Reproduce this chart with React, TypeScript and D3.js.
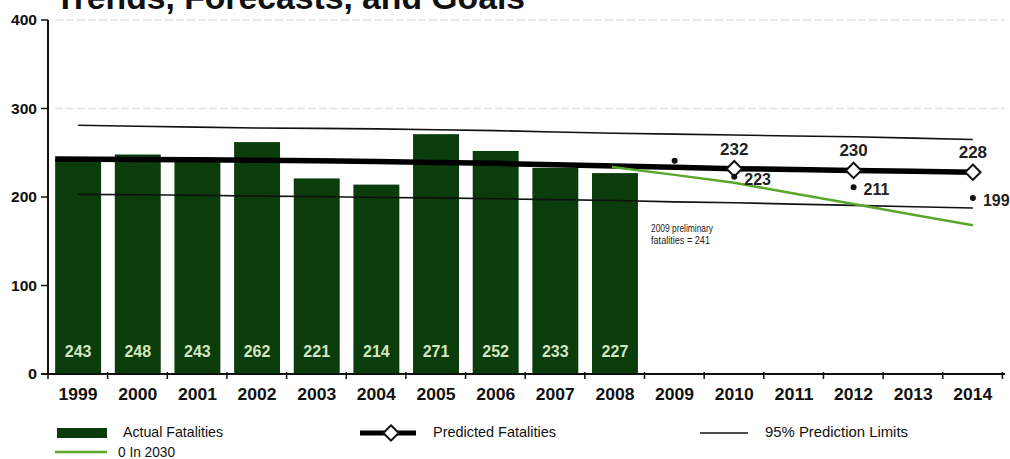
import * as d3 from "d3";

// data
const years = ["1999","2000","2001","2002","2003","2004","2005","2006","2007","2008","2009","2010","2011","2012","2013","2014"];
const actualYears = ["1999","2000","2001","2002","2003","2004","2005","2006","2007","2008"];
const actual = [243, 248, 243, 262, 221, 214, 271, 252, 233, 227];
const predicted = [243, 242.5, 242, 241.5, 241, 240, 239, 238, 236.5, 235, 233.5, 232, 231, 230, 229, 228];
const upperLimit = [281, 280, 279, 278, 277.5, 277, 276, 275, 273.5, 272, 271, 270, 269, 268, 266.5, 265];
const lowerLimit = [203, 202.5, 202, 201, 200.5, 199.5, 199, 198, 197, 196, 194.5, 193.5, 192, 190.5, 189, 187.5];
const goalYears = ["2008","2009","2010","2011","2012","2013","2014"];
const goal = [234, 225, 216, 204, 192, 180, 168];
const markedYears = ["2010","2012","2014"];
const marked = [232, 230, 228];
const dotYears = ["2009","2010","2012","2014"];
const dots = [241, 223, 211, 199];
const yTicks = [0, 100, 200, 300, 400];

const W = 1010, H = 459;
const bold = "Liberation Sans, Arial, sans-serif";

export default function App() {
  const x = d3.scaleBand().domain(years).range([48, 1003]).paddingInner(0.23).paddingOuter(0.12);
  const y = d3.scaleLinear().domain([0, 400]).range([374, 20]);
  const step = x.step();
  const cx = (yr: string) => (x(yr) as number) + x.bandwidth() / 2;

  // thick predicted line starts at the left edge of the first bar
  const predLine = d3.line<number>()
    .x((d, i) => (i === 0 ? (x(years[0]) as number) : cx(years[i])))
    .y(d => y(d));
  const limLine = d3.line<number>().x((d, i) => cx(years[i])).y(d => y(d));
  const goalLine = d3.line<number>().x((d, i) => cx(goalYears[i]) - (i === 0 ? 3 : 0)).y(d => y(d));
  const diamond = d3.symbol().type(d3.symbolDiamond2).size(150)();

  return (
    <svg width={W} height={H} style={{ position: "absolute", left: 0, top: 0, background: "#fff" }}>
      <text x={55} y={9} fontFamily={bold} fontWeight="bold" fontSize={33} fill="#111" textLength={470} lengthAdjust="spacingAndGlyphs">Trends, Forecasts, and Goals</text>

      {/* faint gridlines */}
      {[300, 400].map(v => (
        <line key={v} x1={55} x2={1005} y1={y(v)} y2={y(v)} stroke="#e2e2e2" strokeWidth={1.5} strokeDasharray="8,3" />
      ))}

      {/* bars */}
      {actual.map((v, i) => (
        <rect key={i} x={x(actualYears[i])} y={y(v)} width={x.bandwidth()} height={y(0) - y(v)} fill="#0b3c0c" />
      ))}
      {actual.map((v, i) => (
        <text key={"l" + i} x={cx(actualYears[i])} y={357} textAnchor="middle" fontFamily={bold} fontWeight="bold" fontSize={16} fill="#d2e6bf">{v}</text>
      ))}

      {/* prediction limits */}
      <path d={limLine(upperLimit) as string} fill="none" stroke="#111" strokeWidth={1.6} />
      <path d={limLine(lowerLimit) as string} fill="none" stroke="#111" strokeWidth={1.6} />

      {/* predicted */}
      <path d={predLine(predicted) as string} fill="none" stroke="#000" strokeWidth={5.5} />

      {/* goal line */}
      <path d={goalLine(goal) as string} fill="none" stroke="#5aa62c" strokeWidth={2.5} />

      {/* diamonds + labels */}
      {marked.map((v, i) => (
        <g key={"m" + i}>
          <path d={diamond as string} transform={`translate(${cx(markedYears[i])},${y(v)})`} fill="#fff" stroke="#111" strokeWidth={2} />
          <text x={cx(markedYears[i])} y={y(v) - 14} textAnchor="middle" fontFamily={bold} fontWeight="bold" fontSize={17} fill="#222">{v}</text>
        </g>
      ))}

      {/* preliminary / goal dots */}
      {dots.map((v, i) => (
        <g key={"d" + i}>
          <circle cx={cx(dotYears[i])} cy={y(v)} r={3} fill="#111" />
          {i > 0 && (
            <text x={cx(dotYears[i]) + 10} y={y(v) + 8} fontFamily={bold} fontWeight="bold" fontSize={16} fill="#222">{v}</text>
          )}
        </g>
      ))}
      <text x={651} y={232} fontFamily={bold} fontSize={10} fill="#222" textLength={62} lengthAdjust="spacingAndGlyphs">2009 preliminary</text>
      <text x={651} y={244} fontFamily={bold} fontSize={10} fill="#222" textLength={59} lengthAdjust="spacingAndGlyphs">fatalities = 241</text>

      {/* y axis */}
      <line x1={48} x2={48} y1={y(400)} y2={y(0)} stroke="#111" strokeWidth={2} />
      {yTicks.map(t => (
        <g key={t}>
          <line x1={41} x2={48} y1={y(t)} y2={y(t)} stroke="#111" strokeWidth={1.5} />
          <text x={37} y={y(t) + 5} textAnchor="end" fontFamily={bold} fontWeight="bold" fontSize={14} fill="#111" textLength={t === 0 ? 9 : 26} lengthAdjust="spacingAndGlyphs">{t}</text>
        </g>
      ))}

      {/* x axis */}
      <line x1={41} x2={1005} y1={y(0)} y2={y(0)} stroke="#111" strokeWidth={2} />
      {d3.range(years.length + 1).map(i => (
        <line key={i} x1={48 + i * step} x2={48 + i * step} y1={y(0) - 2} y2={y(0) + 5} stroke="#111" strokeWidth={1.5} />
      ))}
      {years.map(yr => (
        <text key={yr} x={cx(yr)} y={400} textAnchor="middle" fontFamily={bold} fontWeight="bold" fontSize={16} fill="#111" textLength={39} lengthAdjust="spacingAndGlyphs">{yr}</text>
      ))}

      {/* legend */}
      <rect x={57} y={428} width={50} height={10} fill="#0b3c0c" />
      <text x={123} y={437} fontFamily={bold} fontSize={15} fill="#111" textLength={100} lengthAdjust="spacingAndGlyphs">Actual Fatalities</text>
      <line x1={360} x2={416} y1={433} y2={433} stroke="#000" strokeWidth={5} />
      <path d={diamond as string} transform="translate(391,433)" fill="#fff" stroke="#111" strokeWidth={2} />
      <text x={433} y={437} fontFamily={bold} fontSize={15} fill="#111" textLength={123} lengthAdjust="spacingAndGlyphs">Predicted Fatalities</text>
      <line x1={700} x2={748} y1={433} y2={433} stroke="#111" strokeWidth={1.6} />
      <text x={765} y={437} fontFamily={bold} fontSize={15} fill="#111" textLength={143} lengthAdjust="spacingAndGlyphs">95% Prediction Limits</text>
      <line x1={55} x2={107} y1={452} y2={452} stroke="#5aa62c" strokeWidth={2.5} />
      <text x={118} y={457} fontFamily={bold} fontSize={15} fill="#111" textLength={57} lengthAdjust="spacingAndGlyphs">0 In 2030</text>
    </svg>
  );
}
